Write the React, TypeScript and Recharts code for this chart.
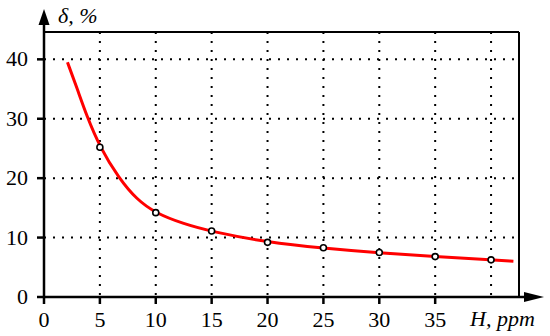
import {
  CartesianGrid,
  ComposedChart,
  Line,
  ReferenceLine,
  Scatter,
  XAxis,
  YAxis,
} from "recharts";

// measured points (open circles)
const pointH = [5, 10, 15, 20, 25, 30, 35, 40];
const pointDelta = [25.2, 14.2, 11.1, 9.2, 8.3, 7.5, 6.8, 6.25];

// fitted curve
const curveH = [2.1, 3, 3.8, 5, 6.7, 8.3, 10, 12.5, 15, 20, 25, 30, 35, 40, 42];
const curveDelta = [39.5, 34.9, 30.6, 25.2, 20.0, 16.4, 14.1, 12.3, 11.0, 9.2, 8.2, 7.4, 6.8, 6.25, 6.0];

const xTicks = [0, 5, 10, 15, 20, 25, 30, 35];
const xGrid = [5, 10, 15, 20, 25, 30, 35, 40];
const yTicks = [0, 10, 20, 30, 40];
const yGrid = [10, 20, 30, 40];

const X_MAX = 42.5;
const Y_MAX = 44.6;

const W = 550;
const H = 336;
const PLOT_LEFT = 44;
const PLOT_TOP = 32;
const PLOT_RIGHT = 519;
const PLOT_BOTTOM = 297;

const FONT = "Liberation Serif, serif";

const points = pointH.map((h, i) => ({ x: h, y: pointDelta[i] }));
const curve = curveH.map((h, i) => ({ x: h, y: curveDelta[i] }));

const OpenDot = (props: any) => {
  const { cx, cy } = props;
  return <circle cx={cx} cy={cy} r={3} fill="#fff" stroke="#000" strokeWidth={1.6} />;
};

const XTick = (props: any) => {
  const { x, y, payload } = props;
  return (
    <text x={x} y={y} dy={15} textAnchor="middle" style={{ fontFamily: FONT, fontSize: 22 }} fill="#000">
      {payload.value}
    </text>
  );
};

const YTick = (props: any) => {
  const { x, y, payload } = props;
  return (
    <text x={x - 2} y={y} dy={7} textAnchor="end" style={{ fontFamily: FONT, fontSize: 22 }} fill="#000">
      {payload.value}
    </text>
  );
};

export default function App() {
  return (
    <div
      style={{
        position: "absolute",
        left: 0,
        top: 0,
        width: W,
        height: H,
        background: "#fff",
        fontFamily: FONT,
      }}
    >
      <ComposedChart
        width={W}
        height={H}
        margin={{ top: PLOT_TOP, right: W - PLOT_RIGHT, bottom: 0, left: 0 }}
      >
        <CartesianGrid
          stroke="#000"
          strokeWidth={2}
          strokeDasharray="2 7"
          horizontalValues={yGrid}
          verticalValues={xGrid}
        />
        <XAxis
          type="number"
          dataKey="x"
          domain={[0, X_MAX]}
          ticks={xTicks}
          height={H - PLOT_BOTTOM}
          tick={<XTick />}
          tickSize={7}
          tickMargin={8}
          tickLine={{ stroke: "#000", strokeWidth: 2.5 }}
          axisLine={{ stroke: "#000", strokeWidth: 2.5 }}
        />
        <YAxis
          type="number"
          dataKey="y"
          domain={[0, Y_MAX]}
          ticks={yTicks}
          width={PLOT_LEFT}
          tick={<YTick />}
          tickSize={7}
          tickMargin={7}
          tickLine={{ stroke: "#000", strokeWidth: 2.5 }}
          axisLine={{ stroke: "#000", strokeWidth: 2.5 }}
        />
        <ReferenceLine y={Y_MAX} stroke="#000" strokeWidth={2} ifOverflow="visible" />
        <ReferenceLine x={X_MAX} stroke="#000" strokeWidth={2} ifOverflow="visible" />
        <Line
          data={curve}
          dataKey="y"
          type="basis"
          stroke="#ff0000"
          strokeWidth={3}
          dot={false}
          activeDot={false}
          isAnimationActive={false}
        />
        <Scatter data={points} dataKey="y" shape={<OpenDot />} isAnimationActive={false} />
      </ComposedChart>
      <svg
        width={W}
        height={H}
        style={{ position: "absolute", left: 0, top: 0, pointerEvents: "none" }}
      >
        <line x1={PLOT_LEFT} y1={PLOT_TOP} x2={PLOT_LEFT} y2={22} stroke="#000" strokeWidth={2.5} />
        <polygon points={`${PLOT_LEFT},9 ${PLOT_LEFT - 5.5},25 ${PLOT_LEFT + 5.5},25`} fill="#000" />
        <line x1={PLOT_RIGHT} y1={PLOT_BOTTOM} x2={528} y2={PLOT_BOTTOM} stroke="#000" strokeWidth={2.5} />
        <polygon points={`544,${PLOT_BOTTOM} 524,${PLOT_BOTTOM - 5} 524,${PLOT_BOTTOM + 5}`} fill="#000" />
        <text x={58} y={23} style={{ fontFamily: FONT, fontSize: 22, fontStyle: "italic" }} fill="#000">
          δ, %
        </text>
        <text x={470} y={326} style={{ fontFamily: FONT, fontSize: 22, fontStyle: "italic" }} fill="#000">
          H, ppm
        </text>
      </svg>
    </div>
  );
}
